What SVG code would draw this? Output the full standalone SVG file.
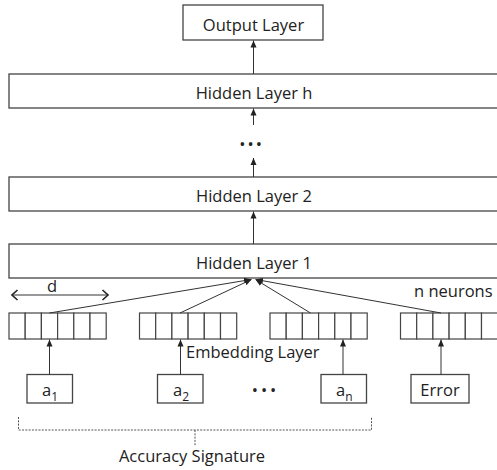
<svg xmlns="http://www.w3.org/2000/svg" width="497" height="470" viewBox="0 0 497 470">
<defs>
<marker id="ah" markerUnits="userSpaceOnUse" markerWidth="8" markerHeight="8" viewBox="0 0 8 8" refX="7" refY="4" orient="auto">
<path d="M0,1 L7,4 L0,7 Z" fill="#222"/>
</marker>
<marker id="open" markerUnits="userSpaceOnUse" markerWidth="10" markerHeight="12" viewBox="0 0 10 12" refX="8.5" refY="6" orient="auto-start-reverse">
<path d="M3,1 L8.5,6 L3,11" fill="none" stroke="#222" stroke-width="1.6"/>
</marker>
</defs>
<style>
.box{fill:#fff;stroke:#444;stroke-width:1.3}
.cell{fill:#fff;stroke:#444;stroke-width:1.2}
.t{font-family:"Open Sans","Noto Sans",sans-serif;font-size:16.5px;fill:#222}
.c{text-anchor:middle}
.ln{stroke:#333;stroke-width:1;fill:none}
.dash{stroke:#555;stroke-width:1;fill:none;stroke-dasharray:2,1.3}
</style>
<rect width="497" height="470" fill="#fff"/>

<g id="output-layer">
<rect class="box" x="183" y="5" width="140" height="35"/>
<text class="t c" x="253.5" y="30.5">Output Layer</text>
</g>
<g id="hidden-layer-h">
<rect class="box" x="9" y="74" width="500" height="34"/>
<text class="t c" x="254" y="99">Hidden Layer h</text>
</g>
<g id="ellipsis-top">
<text class="t c" x="251.7" y="150" font-size="16" letter-spacing="2.1">•••</text>
</g>
<g id="hidden-layer-2">
<rect class="box" x="9" y="177" width="500" height="34"/>
<text class="t c" x="254" y="202">Hidden Layer 2</text>
</g>
<g id="hidden-layer-1">
<rect class="box" x="9" y="244" width="500" height="34"/>
<text class="t c" x="254" y="269">Hidden Layer 1</text>
</g>
<g id="neurons-label">
<text class="t" x="414" y="297">n neurons</text>
</g>
<g id="d-dimension">
<line class="ln" x1="12" y1="295" x2="108" y2="295" stroke-width="1.6" marker-start="url(#open)" marker-end="url(#open)"/>
<text class="t c" x="52" y="292">d</text>
</g>

<g id="embedding-1">
<rect class="cell" x="9" y="313" width="16.2" height="26"/>
<rect class="cell" x="25.2" y="313" width="16.2" height="26"/>
<rect class="cell" x="41.4" y="313" width="16.2" height="26"/>
<rect class="cell" x="57.6" y="313" width="16.2" height="26"/>
<rect class="cell" x="73.8" y="313" width="16.2" height="26"/>
<rect class="cell" x="90" y="313" width="16.2" height="26"/>
</g>
<g id="embedding-2">
<rect class="cell" x="139.5" y="313" width="16.2" height="26"/>
<rect class="cell" x="155.7" y="313" width="16.2" height="26"/>
<rect class="cell" x="171.9" y="313" width="16.2" height="26"/>
<rect class="cell" x="188.1" y="313" width="16.2" height="26"/>
<rect class="cell" x="204.3" y="313" width="16.2" height="26"/>
<rect class="cell" x="220.5" y="313" width="16.2" height="26"/>
</g>
<g id="embedding-3">
<rect class="cell" x="270" y="313" width="16.2" height="26"/>
<rect class="cell" x="286.2" y="313" width="16.2" height="26"/>
<rect class="cell" x="302.4" y="313" width="16.2" height="26"/>
<rect class="cell" x="318.6" y="313" width="16.2" height="26"/>
<rect class="cell" x="334.8" y="313" width="16.2" height="26"/>
<rect class="cell" x="351" y="313" width="16.2" height="26"/>
</g>
<g id="embedding-4">
<rect class="cell" x="400.5" y="313" width="16.2" height="26"/>
<rect class="cell" x="416.7" y="313" width="16.2" height="26"/>
<rect class="cell" x="432.9" y="313" width="16.2" height="26"/>
<rect class="cell" x="449.1" y="313" width="16.2" height="26"/>
<rect class="cell" x="465.3" y="313" width="16.2" height="26"/>
<rect class="cell" x="481.5" y="313" width="16.2" height="26"/>
</g>
<g id="embedding-label">
<text class="t" x="186" y="358">Embedding Layer</text>
</g>

<g id="input-a1">
<rect class="box" x="27" y="374.5" width="45.5" height="28.5"/>
<text class="t" x="42" y="395.5">a<tspan font-size="12" dy="5">1</tspan></text>
</g>
<g id="input-a2">
<rect class="box" x="157.5" y="374.5" width="45.5" height="28.5"/>
<text class="t" x="173" y="395.5">a<tspan font-size="12" dy="5">2</tspan></text>
</g>
<g id="ellipsis-bottom">
<text class="t c" x="265.5" y="396" font-size="16" letter-spacing="3">•••</text>
</g>
<g id="input-an">
<rect class="box" x="321" y="374.5" width="45.5" height="28.5"/>
<text class="t" x="336" y="395.5">a<tspan font-size="12" dy="5">n</tspan></text>
</g>
<g id="input-error">
<rect class="box" x="411" y="374.5" width="58" height="28.5"/>
<text class="t c" x="440" y="395.5">Error</text>
</g>

<g id="accuracy-signature">
<path class="dash" d="M18.5,417 V430 H371.5 V417 M195,430 V446"/>
<text class="t c" x="192" y="462">Accuracy Signature</text>
</g>

<g id="connectors">
<line class="ln" x1="253.5" y1="74" x2="253.5" y2="40.5" marker-end="url(#ah)"/>
<line class="ln" x1="253.5" y1="125" x2="253.5" y2="108.5" marker-end="url(#ah)"/>
<line class="ln" x1="253.5" y1="177" x2="253.5" y2="158" marker-end="url(#ah)"/>
<line class="ln" x1="253.5" y1="244" x2="253.5" y2="211.5" marker-end="url(#ah)"/>
<line class="ln" x1="49.5" y1="313" x2="251" y2="279.5" marker-end="url(#ah)"/>
<line class="ln" x1="180" y1="313" x2="251.5" y2="279.5" marker-end="url(#ah)"/>
<line class="ln" x1="310.5" y1="313" x2="255.5" y2="279.5" marker-end="url(#ah)"/>
<line class="ln" x1="441" y1="313" x2="256" y2="279.5" marker-end="url(#ah)"/>
<line class="ln" x1="49.5" y1="374.5" x2="49.5" y2="339.5" marker-end="url(#ah)"/>
<line class="ln" x1="180.5" y1="374.5" x2="180.5" y2="339.5" marker-end="url(#ah)"/>
<line class="ln" x1="343" y1="374.5" x2="343" y2="339.5" marker-end="url(#ah)"/>
<line class="ln" x1="441" y1="374.5" x2="441" y2="339.5" marker-end="url(#ah)"/>
</g>
</svg>
